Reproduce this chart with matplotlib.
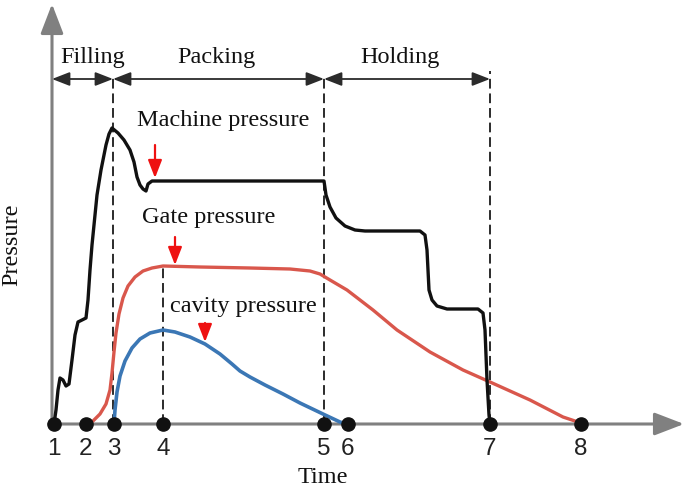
import matplotlib
matplotlib.use("Agg")
import matplotlib.pyplot as plt

# ---- data (time / pressure in arbitrary schematic units) ----
machine_t = [2, 4, 6, 8, 11, 14, 17, 20, 23, 26, 30, 34, 36, 38, 40, 42, 45, 49, 54, 57, 60,
             66, 72, 78, 82, 85, 88, 91, 94, 96, 100, 272, 274, 278, 284, 293, 303, 313, 368,
             373, 375, 376, 377, 380, 385, 395, 426, 431, 433, 435, 437, 438]
machine_p = [0, 14, 34, 46, 44, 38, 40, 64, 89, 102, 104, 106, 124, 154, 179, 199, 229, 254, 279, 290, 296,
             291, 284, 274, 262, 247, 239, 235, 233, 240, 243, 243, 229, 217, 206, 198, 194, 193, 193,
             189, 174, 154, 134, 124, 118, 115, 115, 111, 94, 44, 9, 0]

gate_t = [34, 41, 48, 54, 58, 60, 62, 64, 67, 71, 76, 83, 91, 100, 111, 148, 198, 238, 258, 268,
          278, 295, 321, 345, 378, 411, 438, 478, 511, 529]
gate_p = [0, 3, 10, 20, 34, 51, 72, 91, 110, 126, 138, 147, 153, 156, 158, 157, 156, 155, 153, 150,
          144, 134, 114, 94, 72, 54, 42, 24, 7, 1]

cavity_t = [62, 63, 65, 68, 73, 80, 88, 98, 111, 123, 138, 153, 168, 180, 188, 198, 213, 231, 248,
            271, 288, 294]
cavity_p = [0, 14, 32, 48, 63, 76, 85, 91, 94, 92, 87, 80, 70, 60, 53, 47, 39, 30, 21,
            10, 2, 0]

event_t = [2, 34, 62, 111, 272, 296, 438, 529]
event_labels = ["1", "2", "3", "4", "5", "6", "7", "8"]

phase_bounds = [0, 61, 272, 438]
phase_names = ["Filling", "Packing", "Holding"]
phase_label_t = [41, 164, 348]
phase_dash_top = [349, 349, 353]

curve_names = ["Machine pressure", "Gate pressure", "cavity pressure"]
curve_label_t = [171, 157, 191]
curve_label_p = [298, 201, 112]
red_arrow_t = [103, 123, 153]
red_arrow_from = [279, 187, 101]
red_arrow_to = [246, 159, 82]

# ---- figure ----
fig = plt.figure(figsize=(6.85, 4.9), dpi=100)
ax = fig.add_axes([0, 0, 1, 1])
ax.set_xlim(-52, 633)
ax.set_ylim(-66, 424)
ax.axis("off")

serif = "Liberation Serif"
sans = "Liberation Sans"
axis_gray = "#808080"
dark = "#2b2b2b"

# axes arrows
ax.annotate("", xy=(0, 420), xytext=(0, 0),
            arrowprops=dict(arrowstyle="-|>,head_length=1.3,head_width=0.5", color=axis_gray,
                            lw=2.2, shrinkA=0, shrinkB=0, mutation_scale=14), zorder=1)
ax.annotate("", xy=(632, 0), xytext=(-3, 0),
            arrowprops=dict(arrowstyle="-|>,head_length=1.3,head_width=0.5", color=axis_gray,
                            lw=2.2, shrinkA=0, shrinkB=0, mutation_scale=14), zorder=1)

# dashed phase lines
for t, top in zip(phase_bounds[1:], phase_dash_top):
    ax.plot([t, t], [0, top], color=dark, lw=1.4, dashes=(5, 2.5), zorder=2)
ax.plot([event_t[3], event_t[3]], [0, gate_p[14]], color=dark, lw=1.4, dashes=(5, 2.5), zorder=2)

# phase arrows
arrow_p = 345
for i in range(3):
    ax.annotate("", xy=(phase_bounds[i + 1], arrow_p), xytext=(phase_bounds[i], arrow_p),
                arrowprops=dict(arrowstyle="<|-|>,head_length=0.9,head_width=0.35", color=dark,
                                lw=1.3, shrinkA=0, shrinkB=0, mutation_scale=12), zorder=3)
    ax.text(phase_label_t[i], 361, phase_names[i], family=serif, fontsize=17.5,
            ha="center", va="baseline", color="#111111")

# curves
ax.plot(gate_t, gate_p, color="#d9574c", lw=2.4, solid_capstyle="round", solid_joinstyle="round", zorder=4)
ax.plot(cavity_t, cavity_p, color="#3b77b5", lw=2.6, solid_capstyle="round", solid_joinstyle="round", zorder=4)
ax.plot(machine_t, machine_p, color="#111111", lw=2.4, solid_capstyle="round", solid_joinstyle="round", zorder=5)

# curve labels and red arrows
for i in range(3):
    ax.text(curve_label_t[i], curve_label_p[i], curve_names[i], family=serif, fontsize=17.5,
            ha="center", va="baseline", color="#111111", zorder=6)
    ax.annotate("", xy=(red_arrow_t[i], red_arrow_to[i]), xytext=(red_arrow_t[i], red_arrow_from[i]),
                arrowprops=dict(arrowstyle="-|>,head_length=0.9,head_width=0.35", color="#ee1111",
                                lw=1.6, shrinkA=0, shrinkB=0, mutation_scale=12), zorder=6)

# event points
ax.plot(event_t, [0] * len(event_t), "o", color="#111111", markersize=9.5, zorder=7, clip_on=False)
for t, lab in zip(event_t, event_labels):
    ax.text(t, -31, lab, family=sans, fontsize=17.5, ha="center", va="baseline", color="#222222")

ax.text(271, -59, "Time", family=serif, fontsize=17.5, ha="center", va="baseline", color="#111111")
ax.text(-40, 179, "Pressure", family=serif, fontsize=17.5, ha="center", va="center",
        rotation=90, color="#111111")

fig.savefig("out.png", dpi=100)
